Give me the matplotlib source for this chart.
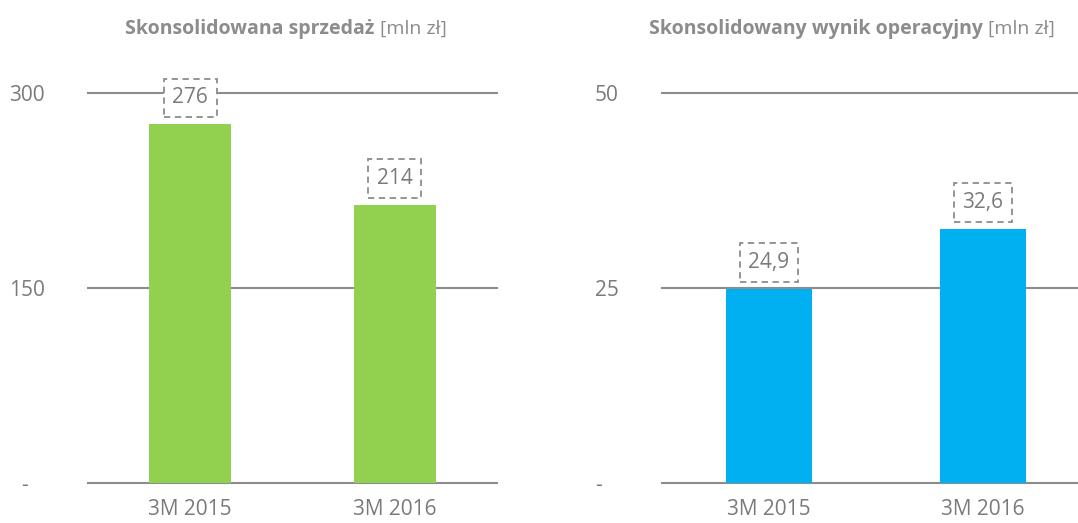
import matplotlib.pyplot as plt

plt.rcParams['font.family'] = ['Open Sans', 'DejaVu Sans']

# dane
okresy = ['3M 2015', '3M 2016']
sprzedaz = [276, 214]
wynik_oper = [24.9, 32.6]

ticks_sprzedaz = [0, 150, 300]
ticks_wynik = [0, 25, 50]

kolor_tekstu = '#7a7a7a'
kolor_linii = '#8c8c8c'

fig = plt.figure(figsize=(10.78, 5.23), dpi=100)

ax1 = fig.add_axes([88/1078, 1-483.3/523, 409/1078, 390.3/523])
ax2 = fig.add_axes([662/1078, 1-483.3/523, 428/1078, 390.3/523])


def rysuj(ax, wartosci, ticks, kolor):
    x = range(len(okresy))
    ax.bar(x, wartosci, width=0.4, color=kolor, zorder=2)
    ax.set_xlim(-0.5, 1.5)
    ax.set_ylim(0, ticks[-1])
    ax.set_yticks(ticks)
    ax.set_yticklabels(['-   '] + [str(t) for t in ticks[1:]])
    ax.set_xticks(list(x))
    ax.set_xticklabels(okresy)
    ax.tick_params(length=0, labelsize=15, colors=kolor_tekstu)
    ax.tick_params(axis='y', pad=31)
    ax.tick_params(axis='x', pad=11)
    for s in ax.spines.values():
        s.set_visible(False)
    for t in ticks:
        ax.axhline(t, color=kolor_linii, lw=1.5, zorder=1, clip_on=False)
    for i, v in enumerate(wartosci):
        txt = str(v).replace('.', ',')
        ax.annotate(txt, xy=(i, v), xytext=(0, 19), textcoords='offset points',
                    ha='center', va='center', fontsize=15, color=kolor_tekstu, zorder=3,
                    bbox=dict(boxstyle='square,pad=0.42', fc='white', ec=kolor_linii,
                              ls=(0, (3.5, 2.5)), lw=1.3))


rysuj(ax1, sprzedaz, ticks_sprzedaz, '#92d050')
rysuj(ax2, wynik_oper, ticks_wynik, '#00b0f0')

# tytuly
def tytul(xc, pogrubiony, zwykly):
    t1 = fig.text(0, 0, pogrubiony + ' ', fontsize=14, fontweight='bold', color=kolor_linii)
    t2 = fig.text(0, 0, zwykly, fontsize=14, color=kolor_linii)
    fig.canvas.draw()
    r = fig.canvas.get_renderer()
    w1 = t1.get_window_extent(r).width
    w2 = t2.get_window_extent(r).width
    x0 = xc - (w1 + w2) / 2
    y = 1 - 29/523
    t1.set_position((x0/1078, y))
    t2.set_position(((x0 + w1)/1078, y))
    t1.set_va('center')
    t2.set_va('center')


tytul(286, 'Skonsolidowana sprzedaż', '[mln zł]')
tytul(852, 'Skonsolidowany wynik operacyjny', '[mln zł]')

fig.savefig('out.png', dpi=100)
